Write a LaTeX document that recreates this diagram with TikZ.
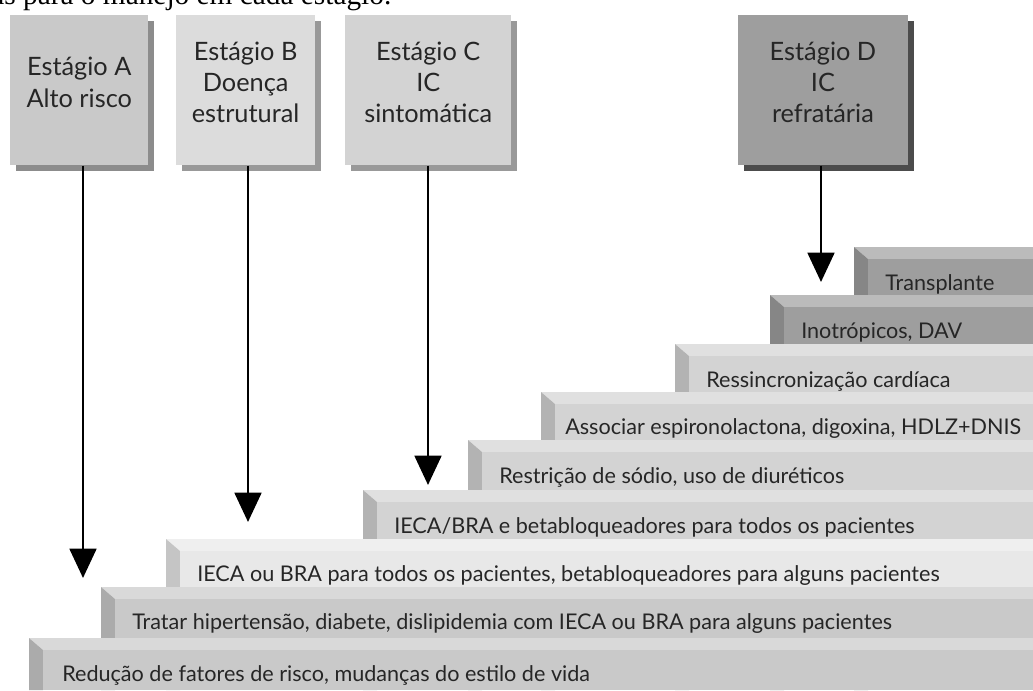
\documentclass[tikz,border=0pt]{standalone}
\usepackage{fontspec}
\setmainfont{Lato}
\newfontfamily\serifa{Liberation Serif}
\usetikzlibrary{arrows.meta,shadows}

\definecolor{cinzaA}{HTML}{C9C9C9}
\definecolor{cinzaB}{HTML}{E8E8E8}
\definecolor{cinzaC}{HTML}{D3D3D3}
\definecolor{cinzaD}{HTML}{9E9E9E}

% um degrau: [recuo do texto], nome, x da frente, y do topo, cor, texto
\newcommand{\degrau}[6][17]{%
  \fill[#5!70!white] (#3-14,#4-12) -- (1033,#4-12) -- (1033,#4) -- (#3,#4) -- cycle;
  \fill[#5!85!black] (#3-14,#4-12) -- (#3,#4) -- (#3,690) -- (#3-14,690) -- cycle;
  \fill[#5] (#3,#4) rectangle (1033,690);
  \node[rotulo] (#2) at (#3+#1,#4+25) {#6};
}

\begin{document}
\begin{tikzpicture}[x=0.75pt,y=-0.75pt,
    estagio/.style={anchor=north west, minimum height=112.5pt, inner sep=0pt,
      text depth=12pt, align=center, text=black!85,
      font=\fontsize{19}{23.5}\selectfont},
    rotulo/.style={anchor=west, inner sep=0pt, text=black!85,
      font=\fontsize{16.2}{19}\selectfont},
    seta/.style={-{Triangle[length=22pt,width=20pt]}, line width=2.2pt}]
  \useasboundingbox (0,0) rectangle (1033,690);
  \clip (0,0) rectangle (1033,690);

  \node[anchor=base east, font=\serifa\fontsize{22}{26}\selectfont] (legenda) at (396,4)
    {as para o manejo em cada estágio.};

  % caixas dos estagios
  \node[estagio, minimum width=103.5pt, fill=cinzaA,
    general shadow={fill=black!45, shadow xshift=4.5pt, shadow yshift=-4.5pt}]
    (estA) at (10,15) {Estágio A\\Alto risco};
  \node[estagio, minimum width=104pt, fill=cinzaB!95!black,
    general shadow={fill=black!40, shadow xshift=4.5pt, shadow yshift=-4.5pt}]
    (estB) at (176,15) {Estágio B\\Doença\\estrutural};
  \node[estagio, minimum width=124.5pt, fill=cinzaC,
    general shadow={fill=black!40, shadow xshift=4.5pt, shadow yshift=-4.5pt}]
    (estC) at (345,15) {Estágio C\\IC\\sintomática};
  \node[estagio, minimum width=127pt, fill=cinzaD,
    general shadow={fill=black!70, shadow xshift=4.5pt, shadow yshift=-4.5pt}]
    (estD) at (738,15) {Estágio D\\IC\\refratária};

  % escada, de tras para frente
  \degrau{transp}{868}{259}{cinzaD}{Transplante}
  \degrau{inotr}{784}{307}{cinzaD}{Inotrópicos, DAV}
  \degrau{ressinc}{689}{356}{cinzaC}{Ressincronização cardíaca}
  \degrau[10]{assoc}{555}{404}{cinzaC}{Associar espironolactona, digoxina, HDLZ+DNIS}
  \degrau{restr}{482}{452}{cinzaC}{Restrição de sódio, uso de diuréticos}
  \degrau{ecab}{377}{502}{cinzaC}{IECA/BRA e betabloqueadores para todos os pacientes}
  \degrau{ecaou}{180}{551}{cinzaB}{IECA ou BRA para todos os pacientes, betabloqueadores para alguns pacientes}
  \degrau{tratar}{115}{599}{cinzaA}{Tratar hipertensão, diabete, dislipidemia com IECA ou BRA para alguns pacientes}
  \degrau[19]{reduc}{43}{650}{cinzaA}{Redução de fatores de risco, mudanças do estilo de vida}

  % setas
  \coordinate (pontaA) at (83,578);
  \coordinate (pontaB) at (248,522);
  \coordinate (pontaC) at (428,485);
  \coordinate (pontaD) at (821,282);
  \draw[seta] (estA.south -| pontaA) -- (pontaA);
  \draw[seta] (estB.south -| pontaB) -- (pontaB);
  \draw[seta] (estC.south -| pontaC) -- (pontaC);
  \draw[seta] (estD.south -| pontaD) -- (pontaD);
\end{tikzpicture}
\end{document}
